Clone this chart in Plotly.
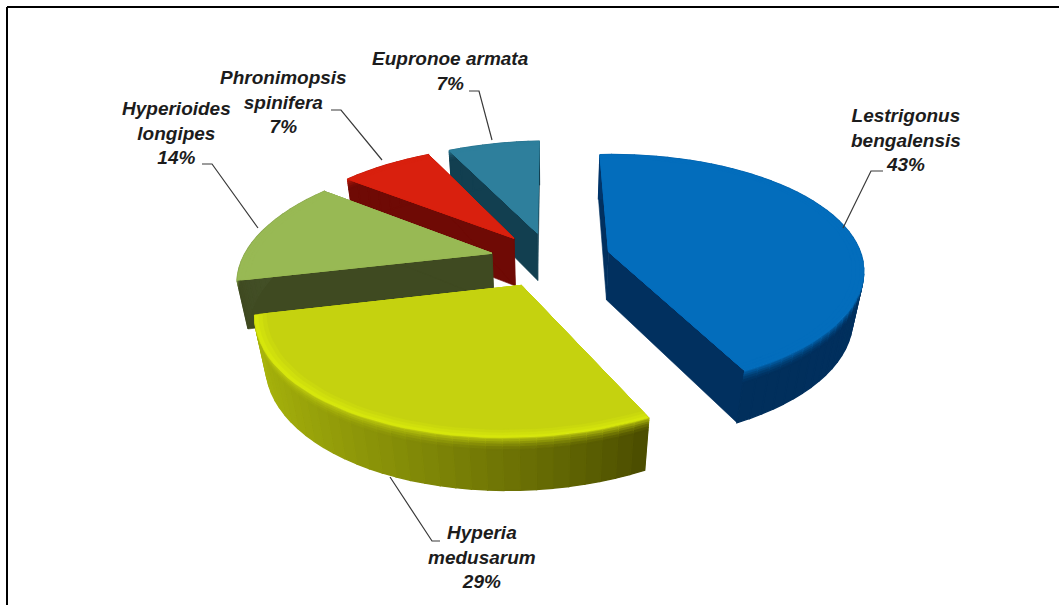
import math
import plotly.graph_objects as go

# ---- data ----
species = ["Lestrigonus<br>bengalensis", "Hyperia<br>medusarum", "Hyperioides<br>longipes",
           "Phronimopsis<br>spinifera", "Eupronoe armata"]
percent = [43, 29, 14, 7, 7]
top_colors = ["#036DBC", "#C5D20F", "#98B954", "#D9200E", "#2E7F9C"]
rim_colors = ["#036DBC", "#D6E60C", "#98B954", "#D9200E", "#2E7F9C"]
radial_wall_colors = ["#01305F", "#6E7404", "#3F4A21", "#6F0A05", "#123F50"]
# outer wall shade at the start and end of each slice's arc
arc_wall_start = ["#01356A", "#4A4C00", "#3F4A21", "#6F0A05", "#123F50"]
arc_wall_end = ["#012F5C", "#A8B40C", "#46522A", "#6F0A05", "#123F50"]
paint_order = [4, 3, 2, 0, 1]

# ---- 3D projection settings (pixels of the page) ----
CX, CY, RX, RY = 550, 259, 252, 116
PERSP, DEPTH_Z, WALL_H, EXPLODE, TILT = 0.172, 0.036, 50, 0.24, -0.02

# ---- label layout ----
label_pos = [(906, 140), (482, 557), (176, 133), (283, 102), (450, 71)]
leaders = [
    [(883, 171), (871, 171), (843, 228)],
    [(440, 541), (432, 541), (390, 477)],
    [(202, 164), (212, 164), (258, 228)],
    [(331, 110), (341, 110), (382, 160)],
    [(469, 91), (479, 91), (492, 140)],
]


def project(u, v, z=0.0):
    w = 1 - PERSP * v + DEPTH_Z * z
    x = CX + RX * u / w
    return x, CY + (RY * v + WALL_H * z) / w + TILT * (x - CX)


def hex_mix(a, b, t):
    ca = [int(a[i:i + 2], 16) for i in (1, 3, 5)]
    cb = [int(b[i:i + 2], 16) for i in (1, 3, 5)]
    return "#%02x%02x%02x" % tuple(round(x + (y - x) * t) for x, y in zip(ca, cb))


fig = go.Figure()


def poly(points, color, edge=0.6):
    fig.add_trace(go.Scatter(
        x=[p[0] for p in points] + [points[0][0]],
        y=[p[1] for p in points] + [points[0][1]],
        mode="lines", fill="toself", fillcolor=color,
        line=dict(color=color, width=edge), hoverinfo="skip", showlegend=False))


# slice angles derived from the values
total = sum(percent)
starts, ends, acc = [], [], 0.0
for p in percent:
    starts.append(acc / total * 2 * math.pi)
    acc += p
    ends.append(acc / total * 2 * math.pi)

bands = [(0.0, 0.04, 0.8), (0.04, 0.08, 0.6), (0.08, 0.12, 0.4), (0.12, 0.17, 0.22),
         (0.17, 0.22, 0.08), (0.22, 1.0, 0.0)]

for i in paint_order:
    a0, a1 = starts[i], ends[i]
    mid = (a0 + a1) / 2
    au, av = EXPLODE * math.sin(mid), -EXPLODE * math.cos(mid)
    n = max(8, int((a1 - a0) / math.radians(3)))
    ang = [a0 + (a1 - a0) * j / n for j in range(n + 1)]
    pt = lambda a, r=1.0: (au + r * math.sin(a), av - r * math.cos(a))

    # radial walls
    for a in (a0, a1):
        e = pt(a)
        poly([project(au, av), project(*e), project(*e, 1), project(au, av, 1)], radial_wall_colors[i])

    # outer wall, banded across the arc and from top to bottom
    for j in range(n):
        a, b = ang[j], ang[j + 1]
        frac = (j + 0.5) / n
        shade = hex_mix(arc_wall_end[i], arc_wall_start[i], (1 - frac) ** 1.6)
        for z0, z1, lift in bands:
            col = hex_mix(shade, top_colors[i], lift)
            poly([project(*pt(a), z0), project(*pt(b), z0), project(*pt(b), z1), project(*pt(a), z1)], col, 1.4)

    # top face with a soft lighter lip near the rim
    poly([project(au, av)] + [project(*pt(a)) for a in ang], rim_colors[i])
    poly([project(au, av)] + [project(*pt(a, 0.985)) for a in ang], hex_mix(rim_colors[i], top_colors[i], 0.35))
    poly([project(au, av)] + [project(*pt(a, 0.97)) for a in ang], hex_mix(rim_colors[i], top_colors[i], 0.7))
    poly([project(au, av)] + [project(*pt(a, 0.955)) for a in ang], top_colors[i])

# leader lines
for pts in leaders:
    fig.add_trace(go.Scatter(x=[p[0] for p in pts], y=[p[1] for p in pts], mode="lines",
                             line=dict(color="#3a3a3a", width=1.2), hoverinfo="skip", showlegend=False))

# labels
for name, pct, (x, y) in zip(species, percent, label_pos):
    fig.add_annotation(x=x, y=y, xref="x", yref="y", showarrow=False, align="center",
                       text=f"<b><i>{name}<br>{pct}%</i></b>",
                       font=dict(family="Liberation Sans", size=19, color="#1c1c1c"))

# frame (top and left only)
fig.add_shape(type="line", x0=7, y0=605, x1=7, y1=7, xref="x", yref="y", line=dict(color="black", width=2))
fig.add_shape(type="line", x0=7, y0=7, x1=1059, y1=7, xref="x", yref="y", line=dict(color="black", width=2))

fig.update_xaxes(range=[0, 1059], visible=False, fixedrange=True)
fig.update_yaxes(range=[605, 0], visible=False, fixedrange=True)
fig.update_layout(width=1059, height=605, margin=dict(l=0, r=0, t=0, b=0),
                  paper_bgcolor="white", plot_bgcolor="white", showlegend=False)
fig.write_html("out.html", config=dict(displayModeBar=False),
               post_script="document.body.style.margin='0';document.documentElement.style.overflow='hidden';")
